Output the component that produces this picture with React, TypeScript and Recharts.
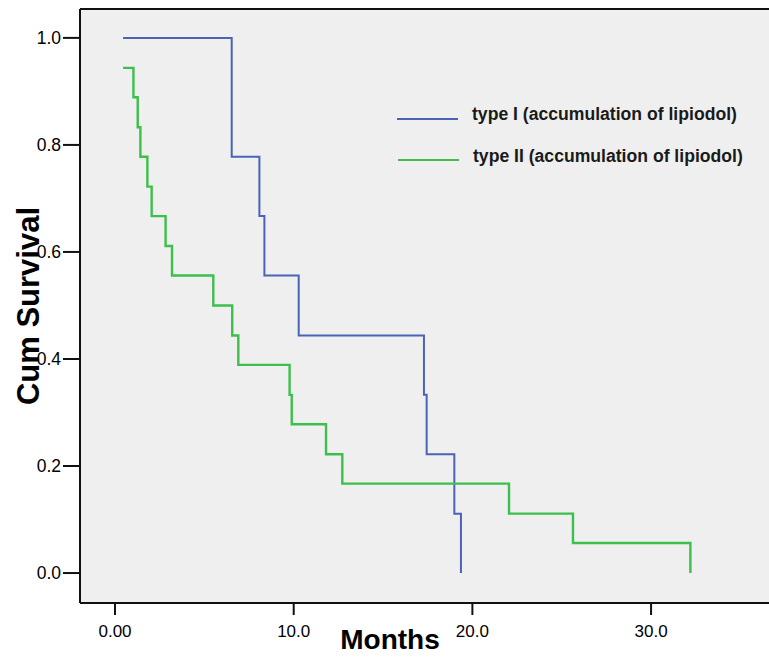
import React from "react";
import { LineChart, Line, XAxis, YAxis, CartesianGrid, ReferenceLine, Legend } from "recharts";

const seriesNames = ["type I (accumulation of lipiodol)", "type II (accumulation of lipiodol)"];
const seriesColors = ["#4a63b7", "#3dbf4b"];

const typeIMonths = [0.45, 6.53, 8.08, 8.36, 10.28, 17.29, 17.44, 18.99, 19.36];
const typeISurvival = [1.0, 0.778, 0.667, 0.556, 0.444, 0.333, 0.222, 0.111, 0.0];

const typeIIMonths = [0.45, 1.03, 1.27, 1.42, 1.81, 2.05, 2.83, 3.19, 5.5, 6.56, 6.9, 9.77, 9.89, 11.81, 12.72, 22.05, 25.63, 32.2];
const typeIISurvival = [0.944, 0.889, 0.833, 0.778, 0.722, 0.667, 0.611, 0.556, 0.5, 0.444, 0.389, 0.333, 0.278, 0.222, 0.167, 0.111, 0.056, 0.0];

const xTicks = [0, 10, 20, 30];
const xTickLabels = ["0.00", "10.0", "20.0", "30.0"];
const yTicks = [0, 0.2, 0.4, 0.6, 0.8, 1.0];
const yTickLabels = ["0.0", "0.2", "0.4", "0.6", "0.8", "1.0"];

const X_DOMAIN: [number, number] = [-1.96, 36.6];
const Y_DOMAIN: [number, number] = [-0.056, 1.054];

const FONT = '"Liberation Sans", Arial, sans-serif';

const dataI = typeIMonths.map((t, i) => ({ t, s: typeISurvival[i] }));
const dataII = typeIIMonths.map((t, i) => ({ t, s: typeIISurvival[i] }));

const LegendBox = () => (
  <svg width={375} height={75} style={{ display: "block" }}>
    {seriesNames.map((name, i) => (
      <g key={name}>
        <line x1={7 + i} x2={68 + i} y1={19 + i * 41} y2={19 + i * 41} stroke={seriesColors[i]} strokeWidth={2} />
        <text x={82 + i * 1} y={20 + i * 41.5} fontFamily={FONT} fontWeight="bold" fontSize={17.6} fill="#1a1a1a">
          {name}
        </text>
      </g>
    ))}
  </svg>
);

export default function App() {
  return (
    <div style={{ position: "absolute", left: 0, top: 0, width: 769, height: 660, background: "#fff" }}>
      <LineChart width={769} height={660} margin={{ top: 9, right: 0, bottom: 0, left: 0 }}>
        <CartesianGrid fill="#efefef" stroke="none" horizontal={false} vertical={false} />
        <XAxis
          type="number"
          dataKey="t"
          domain={X_DOMAIN}
          allowDataOverflow
          ticks={xTicks}
          tickFormatter={(v: number) => xTickLabels[xTicks.indexOf(v)] ?? String(v)}
          height={57}
          tickSize={12}
          tickMargin={10}
          axisLine={{ stroke: "#111", strokeWidth: 2 }}
          tickLine={{ stroke: "#111", strokeWidth: 2 }}
          tick={{ fill: "#000", fontSize: 17, fontFamily: FONT }}
          label={(props: any) => {
            const vb = props.viewBox || { x: 80, y: 603 };
            return (
              <text x={vb.x + 310} y={vb.y + 46} textAnchor="middle" fontFamily={FONT} fontWeight="bold" fontSize={28} fill="#000">
                Months
              </text>
            );
          }}
        />
        <YAxis
          type="number"
          domain={Y_DOMAIN}
          allowDataOverflow
          ticks={yTicks}
          tickFormatter={(v: number) => yTickLabels[yTicks.indexOf(v)] ?? String(v)}
          width={80}
          tickSize={17}
          tickMargin={2}
          axisLine={{ stroke: "#111", strokeWidth: 2 }}
          tickLine={{ stroke: "#111", strokeWidth: 2 }}
          tick={{ fill: "#000", fontSize: 17.5, fontFamily: FONT }}
          label={(props: any) => {
            const vb = props.viewBox || { x: 0, y: 9, height: 594 };
            const cx = vb.x + 28;
            const cy = vb.y + vb.height / 2;
            return (
              <text
                x={cx}
                y={cy}
                transform={`rotate(-90 ${cx} ${cy})`}
                textAnchor="middle"
                dominantBaseline="central"
                fontFamily={FONT}
                fontWeight="bold"
                fontSize={31}
                fill="#000"
              >
                Cum Survival
              </text>
            );
          }}
        />
        <ReferenceLine y={Y_DOMAIN[1]} stroke="#111" strokeWidth={2} />
        <Line
          data={dataI}
          dataKey="s"
          type="stepAfter"
          stroke={seriesColors[0]}
          strokeWidth={2}
          dot={false}
          activeDot={false}
          isAnimationActive={false}
          name={seriesNames[0]}
        />
        <Line
          data={dataII}
          dataKey="s"
          type="stepAfter"
          stroke={seriesColors[1]}
          strokeWidth={2.4}
          dot={false}
          activeDot={false}
          isAnimationActive={false}
          name={seriesNames[1]}
        />
        <Legend
          layout="horizontal"
          verticalAlign="middle"
          align="center"
          content={() => <LegendBox />}
          wrapperStyle={{ position: "absolute", left: 390, top: 100, width: 375, height: 75 }}
        />
      </LineChart>
    </div>
  );
}
